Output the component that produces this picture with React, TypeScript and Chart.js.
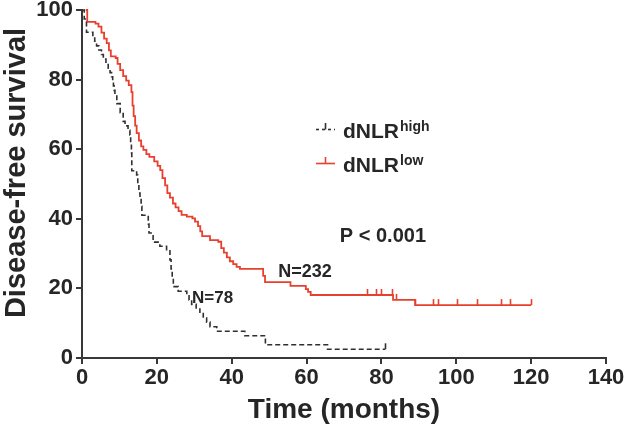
import React, { useEffect, useRef } from 'react';
import { Chart, registerables } from 'chart.js';

Chart.register(...registerables);

// ---- data ----
const highTimes = [0, 0.6, 1.2, 2.9, 3.4, 3.9, 4.5, 5.2, 5.7, 6.4, 7.0, 7.5, 7.9, 8.2, 8.4, 8.6, 8.8, 9.3, 10.2, 11.0, 11.5, 12.3, 12.8, 13.0, 13.2, 13.3, 14.6, 14.9, 15.2, 15.5, 15.8, 16.0, 17.7, 17.9, 19.0, 20.8, 22.6, 23.5, 23.8, 24.1, 24.4, 25.7, 28.0, 28.6, 29.3, 30.5, 31.5, 32.4, 33.3, 34.2, 36.0, 43.5, 49.0, 65.6, 81.0];
const highSurv = [100, 97.4, 93.6, 92.3, 91.0, 89.7, 88.5, 87.2, 85.9, 84.6, 83.3, 82.0, 80.8, 79.5, 78.2, 76.9, 75.6, 73.1, 70.5, 68.0, 66.7, 65.4, 64.1, 61.5, 59.0, 53.8, 52.6, 50.0, 47.4, 46.2, 43.6, 41.0, 38.5, 35.9, 33.3, 32.1, 30.8, 28.2, 25.6, 23.1, 20.5, 19.2, 17.9, 16.7, 15.4, 14.1, 12.8, 11.5, 10.3, 9.0, 7.7, 6.4, 3.8, 2.5, 2.5];
const highCensor = [81.0];

const lowTimes = [1, 1.4, 3.6, 4.4, 5.2, 5.9, 6.6, 7.2, 7.7, 9.0, 9.5, 10.2, 11.0, 11.8, 12.5, 13.2, 13.5, 13.8, 14.2, 14.6, 15.2, 15.8, 16.4, 17.2, 18.0, 19.3, 20.2, 20.9, 21.5, 22.2, 22.8, 23.5, 24.3, 25.0, 25.8, 26.6, 28.0, 29.5, 30.2, 31.0, 31.6, 32.1, 34.2, 36.4, 37.2, 37.9, 38.7, 39.5, 40.4, 41.3, 42.2, 48.4, 48.9, 55.7, 59.8, 60.4, 61.1, 83.1, 89.0, 120];
const lowSurv = [100, 96.6, 96.1, 95.2, 93.5, 91.8, 90.5, 88.4, 86.7, 86.2, 84.5, 82.7, 81.0, 79.7, 78.4, 76.4, 72.5, 69.5, 66.8, 64.6, 62.5, 60.8, 59.8, 58.6, 57.8, 56.5, 55.2, 54.0, 51.7, 49.6, 47.4, 46.1, 44.4, 43.3, 42.2, 41.1, 40.6, 40.1, 39.2, 37.9, 36.4, 35.0, 33.9, 33.4, 31.6, 30.3, 28.9, 27.8, 27.0, 26.2, 25.6, 23.6, 21.8, 20.7, 19.8, 19.0, 18.1, 16.7, 15.2, 15.2];
const lowCensor = [76.2, 78.6, 79.9, 82.7, 84.0, 89.0, 93.7, 95.2, 100.1, 105.5, 111.9, 114.3, 120];

const xTickValues = [0, 20, 40, 60, 80, 100, 120, 140];
const yTickValues = [0, 20, 40, 60, 80, 100];

const xTitle = 'Time (months)';
const yTitle = 'Disease-free survival';
const legendBase = 'dNLR';
const legendSups = ['high', 'low'];
const pText = 'P < 0.001';
const nLabels = ['N=78', 'N=232'];
// annotation anchors in data units (month, %)
const pAnchor = [80.4, 34.8];
const nAnchors = [[34.9, 17.2], [59.6, 24.7]];

const FONT = "'Liberation Sans', Arial, Helvetica, sans-serif";
const TEXT = '#262626';
const AXIS = '#383838';
const RED = '#e8402e';
const DARK = '#303030';

function survAt(times: number[], surv: number[], t: number) {
  let v = surv[0];
  for (let i = 0; i < times.length; i++) {
    if (times[i] <= t + 1e-9) v = surv[i];
  }
  return v;
}

const overlay = {
  id: 'kmOverlay',
  afterDatasetsDraw(chart: any) {
    const { ctx, scales } = chart;
    const xs = scales.x, ys = scales.y;
    const drawTicks = (cens: number[], times: number[], surv: number[], color: string) => {
      ctx.save();
      ctx.strokeStyle = color;
      ctx.lineWidth = 1.6;
      ctx.setLineDash([]);
      cens.forEach((t) => {
        const x = Math.round(xs.getPixelForValue(t)) + 0.5;
        const y = ys.getPixelForValue(survAt(times, surv, t));
        ctx.beginPath();
        ctx.moveTo(x, y);
        ctx.lineTo(x, y - 6);
        ctx.stroke();
      });
      ctx.restore();
    };
    drawTicks(lowCensor, lowTimes, lowSurv, RED);
    drawTicks(highCensor, highTimes, highSurv, DARK);
  },
  afterDraw(chart: any) {
    const { ctx, scales } = chart;
    const xs = scales.x, ys = scales.y;
    ctx.save();
    ctx.fillStyle = TEXT;

    // y title
    ctx.save();
    ctx.translate(25, 173);
    ctx.rotate(-Math.PI / 2);
    ctx.font = `bold 29px ${FONT}`;
    ctx.textAlign = 'center';
    ctx.textBaseline = 'alphabetic';
    ctx.fillText(yTitle, 0, 0);
    ctx.restore();

    // annotations
    ctx.textAlign = 'center';
    ctx.textBaseline = 'middle';
    ctx.font = `bold 20px ${FONT}`;
    ctx.fillText(pText, xs.getPixelForValue(pAnchor[0]), ys.getPixelForValue(pAnchor[1]));
    ctx.font = `bold 18px ${FONT}`;
    ctx.fillText(nLabels[1], xs.getPixelForValue(nAnchors[1][0]), ys.getPixelForValue(nAnchors[1][1]));
    ctx.font = `bold 17px ${FONT}`;
    ctx.fillText(nLabels[0], xs.getPixelForValue(nAnchors[0][0]), ys.getPixelForValue(nAnchors[0][1]));

    // legend
    const lx = 343;
    const rows = [
      { y: 138, color: DARK, dashed: true },
      { y: 172, color: RED, dashed: false },
    ];
    rows.forEach((r, i) => {
      ctx.save();
      ctx.strokeStyle = r.color;
      ctx.lineWidth = 1.6;
      ctx.setLineDash(r.dashed ? [3, 3] : []);
      ctx.beginPath();
      ctx.moveTo(316, r.y - 8.5);
      ctx.lineTo(335, r.y - 8.5);
      ctx.stroke();
      ctx.setLineDash([]);
      ctx.beginPath();
      ctx.moveTo(325.5, r.y - 8.5);
      ctx.lineTo(325.5, r.y - 15);
      ctx.stroke();
      ctx.restore();
      ctx.textAlign = 'left';
      ctx.textBaseline = 'alphabetic';
      ctx.font = `bold 21px ${FONT}`;
      ctx.fillText(legendBase, lx, r.y);
      const w = ctx.measureText(legendBase).width;
      ctx.font = `bold 14px ${FONT}`;
      ctx.fillText(legendSups[i], lx + w + 1, r.y - 7);
    });
    ctx.restore();
  },
};

export default function App() {
  const ref = useRef<HTMLCanvasElement | null>(null);
  useEffect(() => {
    if (!ref.current) return;
    const highData = highTimes.map((t, i) => ({ x: t, y: highSurv[i] }));
    const lowData = lowTimes.map((t, i) => ({ x: t, y: lowSurv[i] }));
    const chart = new Chart(ref.current, {
      type: 'line',
      data: {
        datasets: [
          {
            label: legendBase + legendSups[0],
            data: highData,
            borderColor: DARK,
            borderWidth: 1.6,
            borderDash: [5, 3],
            stepped: 'before',
            pointRadius: 0,
            fill: false,
            clip: false,
          },
          {
            label: legendBase + legendSups[1],
            data: lowData,
            borderColor: RED,
            borderWidth: 1.8,
            stepped: 'before',
            pointRadius: 0,
            fill: false,
            clip: false,
          },
        ],
      },
      options: {
        responsive: false,
        animation: false,
        devicePixelRatio: 1,
        layout: { padding: { top: 10, right: 18, bottom: 0, left: 0 } },
        plugins: { legend: { display: false }, tooltip: { enabled: false } },
        scales: {
          x: {
            type: 'linear',
            min: 0,
            max: 140,
            afterBuildTicks: (s: any) => { s.ticks = xTickValues.map((v) => ({ value: v })); },
            afterFit: (s: any) => { s.height = 73; s.paddingLeft = 0; s.paddingRight = 0; },
            ticks: {
              color: TEXT,
              font: { family: FONT, size: 22, weight: 'bold' },
              padding: 1,
              maxRotation: 0,
              autoSkip: false,
            },
            grid: { display: true, drawOnChartArea: false, drawTicks: true, tickLength: 6, color: AXIS, lineWidth: 2 },
            border: { display: true, color: AXIS, width: 2 },
            title: {
              display: true,
              text: xTitle,
              color: TEXT,
              font: { family: FONT, size: 28, weight: 'bold', lineHeight: 1.2 },
              padding: { top: 0, bottom: 4 },
            },
          },
          y: {
            type: 'linear',
            min: 0,
            max: 100,
            afterBuildTicks: (s: any) => { s.ticks = yTickValues.map((v) => ({ value: v })); },
            afterFit: (s: any) => { s.width = 82; s.paddingTop = 0; s.paddingBottom = 0; },
            ticks: {
              color: TEXT,
              font: { family: FONT, size: 22, weight: 'bold' },
              padding: 3,
              autoSkip: false,
            },
            grid: { display: true, drawOnChartArea: false, drawTicks: true, tickLength: 6, color: AXIS, lineWidth: 2 },
            border: { display: true, color: AXIS, width: 2 },
          },
        },
      },
      plugins: [overlay],
    } as any);
    return () => chart.destroy();
  }, []);
  return (
    <div style={{ position: 'absolute', left: 0, top: 0, width: 624, height: 431, background: '#fff' }}>
      <canvas ref={ref} width={624} height={431} />
    </div>
  );
}
